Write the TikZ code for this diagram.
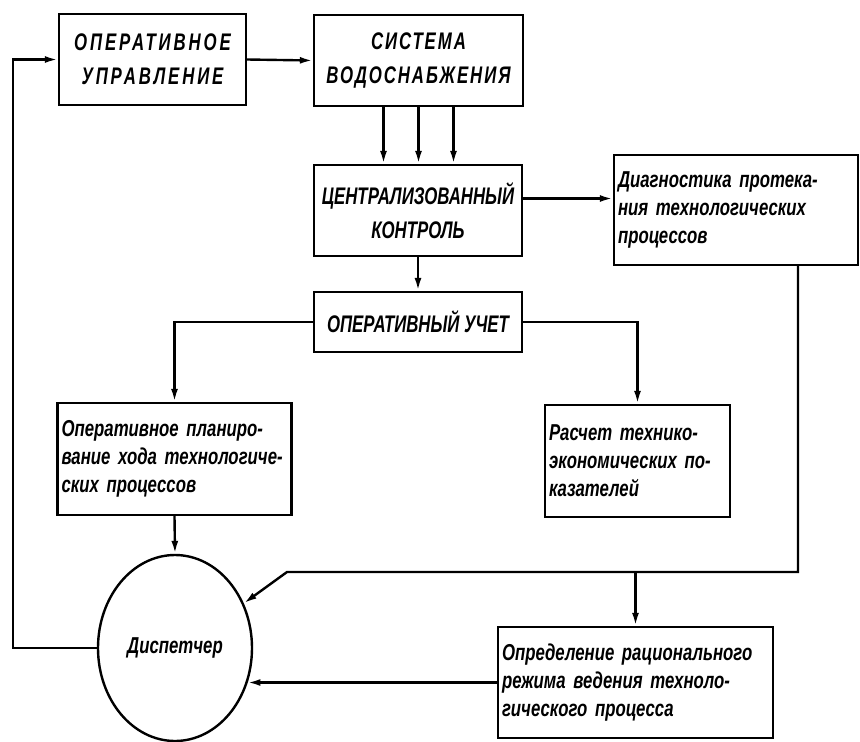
\documentclass[tikz,border=0pt]{standalone}
\usepackage{fontspec}
\setmainfont{Liberation Sans}[FakeStretch=0.73]
\newfontfamily\capsfont{Liberation Sans}[FakeStretch=0.7]
\usetikzlibrary{arrows.meta,shapes.geometric}

\begin{document}
\begin{tikzpicture}[x=1pt,y=-1pt,line width=2.4pt,
  >={Latex[length=13pt,width=7pt]},
  blk/.style={draw,rectangle,inner sep=4pt,align=center,
    font=\capsfont\fontsize{24}{34}\selectfont\bfseries\itshape},
  spaced/.style={font=\capsfont\fontsize{24}{34}\selectfont\bfseries\itshape\addfontfeature{LetterSpace=#1}},
  txt/.style={draw,rectangle,inner sep=4pt,align=left,
    font=\fontsize{23}{28}\selectfont\bfseries\itshape}]
  \useasboundingbox (0,0) rectangle (860,742);

  %upper row
  \node[blk,spaced=12,minimum width=187,minimum height=91] (ou) at (152.5,59.5) {ОПЕРАТИВНОЕ\\УПРАВЛЕНИЕ};
  \node[blk,spaced=8,minimum width=209,minimum height=91] (sv) at (418.5,60.5) {СИСТЕМА\\ВОДОСНАБЖЕНИЯ};
  \node[blk,minimum width=208,minimum height=91] (ck) at (418,210.5) {ЦЕНТРАЛИЗОВАННЫЙ\\КОНТРОЛЬ};
  \node[blk,minimum width=208,minimum height=60] (uch) at (418,322) {ОПЕРАТИВНЫЙ УЧЕТ};
  \node[txt,minimum width=244,minimum height=110,text width=236] (diag) at (736,210)
    {Диагностика протека-\\ния технологических\\процессов};

  %middle and lower row
  \node[txt,minimum width=231,minimum height=112,text width=226] (plan) at (174.5,459)
    {Оперативное планиро-\\вание хода технологиче-\\ских процессов};
  \node[txt,minimum width=185,minimum height=112,text width=177] (rasch) at (637.5,461)
    {Расчет технико-\\экономических по-\\казателей};
  \node[txt,minimum width=275,minimum height=111,text width=267] (opr) at (635.5,682.5)
    {Определение рационального\\режима ведения техноло-\\гического процесса};
  \node[draw,ellipse,inner sep=0pt,minimum width=154,minimum height=186,
    font=\fontsize{23}{28}\selectfont\bfseries\itshape] (disp) at (175,648) {Диспетчер};

  %connectors
  \draw[->] (ou.east) -- (sv.west);
  \foreach \dx in {-35,0,35}
    \draw[->] ([xshift=\dx pt]sv.south) -- ([xshift=\dx pt]sv.south |- ck.north);
  \draw[->] (ck.south) -- (uch.north);
  \draw[->] ([yshift=12pt]ck.east) -- ([yshift=12pt]ck.east -| diag.west);
  \draw[->] (uch.west) -| (plan.north);
  \draw[->] (uch.east) -| (rasch.north);
  \draw[->] (plan.south) -- (disp.north);

  %feedback from diagnostics
  \coordinate (cr) at (798,572);
  \coordinate (cl) at (287,572);
  \draw[->] (diag.south -| cr) -- (cr) -- (cl) -- (disp.33);
  \draw[->] (cr -| opr.north) -- (opr.north);
  \draw[->] (opr.west) -- (opr.west -| disp.-26);

  %back to control
  \coordinate (fb) at (13,648);
  \draw[->] (disp.west) -- (fb) |- (ou.west);
\end{tikzpicture}
\end{document}
